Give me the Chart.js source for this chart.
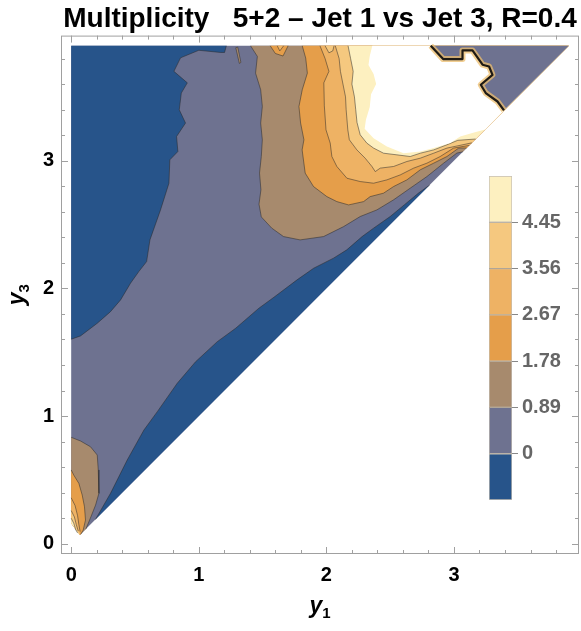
<!DOCTYPE html>
<html>
<head>
<meta charset="utf-8">
<script src="https://cdn.jsdelivr.net/npm/chart.js@4.4.0/dist/chart.umd.min.js"></script>
<style>
  body { margin: 0; background: #fff; }
  #wrap { position: relative; width: 581px; height: 631px; }
  #legendChart { position: absolute; left: 480px; top: 160px; }
</style>
</head>
<body>
<div id="wrap">
  <canvas id="myChart" width="581" height="631"></canvas>
  <canvas id="legendChart" width="101" height="360"></canvas>
</div>
<script>
const titleText = 'Multiplicity   5+2 \u2013 Jet 1 vs Jet 3, R=0.4';
const levels = [0, 0.89, 1.78, 2.67, 3.56, 4.45];
const xTicks = [0, 1, 2, 3];
const yTicks = [0, 1, 2, 3];

// plotted region (y3 >= y1)
const domain = [[0, 3.9], [3.9, 3.9], [0.068, 0.068], [0, 0.16]];
const lowTip = [[0.068, 0.068], [0, 0.16]];

// contour at 0
const zeroLeft = [[1.216, 3.9], [1.202, 3.848], [1.171, 3.848], [1.0, 3.865], [0.857, 3.806], [0.805, 3.70],
  [0.91, 3.61], [0.863, 3.53], [0.847, 3.399], [0.896, 3.295], [0.826, 3.19], [0.836, 3.072], [0.773, 3.007],
  [0.766, 2.824], [0.70, 2.615], [0.617, 2.38], [0.591, 2.21], [0.53, 2.132], [0.465, 2.041], [0.387, 1.91],
  [0.308, 1.818], [0.204, 1.727], [0.073, 1.628], [0, 1.602]];
const zeroDiag = [[0.19, 0.19], [0.308, 0.395], [0.439, 0.656], [0.57, 0.891], [0.675, 1.035], [0.831, 1.257],
  [0.975, 1.426], [1.145, 1.583], [1.289, 1.688], [1.471, 1.845], [1.589, 1.931], [1.77, 2.067], [1.90, 2.158],
  [2.056, 2.237], [2.16, 2.302], [2.28, 2.406], [2.37, 2.472], [2.50, 2.563], [2.61, 2.654], [2.72, 2.745], [2.81, 2.81]];

// contour at 0.89
const brownMain = [[1.406, 3.9], [1.459, 3.817], [1.445, 3.686], [1.485, 3.556], [1.498, 3.425], [1.485, 3.295],
  [1.498, 3.164], [1.49, 3.033], [1.476, 2.903], [1.487, 2.772], [1.472, 2.66], [1.49, 2.56], [1.572, 2.472],
  [1.664, 2.406], [1.794, 2.38], [1.978, 2.406], [2.135, 2.484], [2.265, 2.563], [2.396, 2.615], [2.527, 2.694],
  [2.657, 2.785], [2.788, 2.876], [2.919, 2.981], [3.023, 3.06], [3.07, 3.07]];
const brownLow = [[0, 0.834], [0.073, 0.805], [0.151, 0.76], [0.204, 0.695], [0.212, 0.578], [0.217, 0.395],
  [0.191, 0.303], [0.15, 0.2], [0.115, 0.115]];
const brownIsle = [[1.29, 3.885], [1.305, 3.89], [1.33, 3.77], [1.318, 3.762], [1.29, 3.885]];

// contour at 1.78
const orangeMain = [[1.811, 3.9], [1.838, 3.804], [1.851, 3.686], [1.811, 3.556], [1.785, 3.425], [1.798, 3.295],
  [1.824, 3.164], [1.81, 3.085], [1.834, 2.903], [1.899, 2.798], [2.004, 2.719], [2.082, 2.68], [2.174, 2.654],
  [2.292, 2.68], [2.343, 2.719], [2.448, 2.746], [2.527, 2.798], [2.631, 2.85], [2.736, 2.929], [2.841, 2.981],
  [2.945, 3.033], [3.037, 3.099], [3.1, 3.1]];
const orangeLow = [[0, 0.578], [0.02, 0.538], [0.06, 0.473], [0.086, 0.382], [0.104, 0.29], [0.112, 0.186],
  [0.094, 0.107], [0.075, 0.075]];
const orangeIsle = [[1.56, 3.9], [1.6, 3.84], [1.66, 3.82], [1.70, 3.9]];

// contour at 2.67
const l267Main = [[1.95, 3.9], [1.99, 3.8], [2.02, 3.7], [1.98, 3.61], [1.984, 3.43], [1.997, 3.242], [2.03, 3.138],
  [2.043, 3.033], [2.082, 2.955], [2.161, 2.863], [2.265, 2.837], [2.37, 2.824], [2.474, 2.85], [2.579, 2.889],
  [2.684, 2.942], [2.788, 2.981], [2.892, 3.033], [2.997, 3.099], [3.12, 3.12]];
const l267Low = [[0, 0.36], [0.03, 0.3], [0.05, 0.22], [0.06, 0.15], [0.07, 0.095]];
const l267Isle = [[1.615, 3.9], [1.635, 3.86], [1.665, 3.9]];

// contour at 3.56
const l356Main = [[2.07, 3.9], [2.1, 3.8], [2.11, 3.7], [2.13, 3.6], [2.15, 3.5], [2.155, 3.4], [2.168, 3.242],
  [2.18, 3.164], [2.239, 3.085], [2.304, 3.02], [2.357, 2.955], [2.383, 2.915], [2.422, 2.942], [2.527, 2.955],
  [2.631, 2.994], [2.736, 3.02], [2.841, 3.059], [2.945, 3.099], [3.14, 3.14]];
const l356Low = [[0, 0.26], [0.025, 0.21], [0.04, 0.15], [0.055, 0.1]];
const l356Isle = [[1.99, 3.9], [2.02, 3.845], [2.05, 3.86], [2.06, 3.9]];

// contour at 4.45
const l445Main = [[2.17, 3.9], [2.19, 3.8], [2.21, 3.7], [2.2, 3.6], [2.22, 3.5], [2.23, 3.4], [2.24, 3.3],
  [2.265, 3.203], [2.317, 3.138], [2.37, 3.099], [2.448, 3.059], [2.553, 3.046], [2.657, 3.033], [2.736, 3.059],
  [2.841, 3.085], [2.945, 3.125], [3.03, 3.16], [3.17, 3.17]];
const l445Low = [[0, 0.2], [0.02, 0.16], [0.035, 0.11], [0.05, 0.085]];

// edge of the plotted range (white above) and the jump line
const clipEdge = [[2.36, 3.9], [2.34, 3.82], [2.33, 3.75], [2.37, 3.68], [2.39, 3.6], [2.35, 3.52], [2.34, 3.42],
  [2.31, 3.32], [2.30, 3.25], [2.37, 3.177], [2.474, 3.112], [2.605, 3.059], [2.736, 3.072], [2.841, 3.099],
  [2.971, 3.138], [3.049, 3.19], [3.15, 3.22], [3.245, 3.245]];
const crossing = [[2.818, 3.9], [2.915, 3.796], [3.067, 3.796], [3.067, 3.864], [3.145, 3.864], [3.224, 3.752],
  [3.275, 3.738], [3.302, 3.673], [3.21, 3.595], [3.249, 3.53], [3.341, 3.464], [3.392, 3.395]];

const bandColors = ['#27548a', '#6e7290', '#a78a6d', '#e59e4a', '#eeb264', '#f5c87f', '#fdf0c0'];
const FONT = '"Liberation Sans", Arial, Helvetica, sans-serif';
const LINE = 'rgba(40,40,40,0.5)';

Chart.defaults.font.family = FONT;

const top39 = [[3.9, 3.9]];
const layers = [
  { curve: [], tail: domain, color: bandColors[1] },
  { curve: zeroLeft, tail: [[0, 3.9]], color: bandColors[0] },
  { curve: zeroDiag, tail: [], color: bandColors[0] },
  { curve: brownMain, tail: top39, color: bandColors[2] },
  { curve: brownLow, tail: lowTip, color: bandColors[2] },
  { curve: brownIsle, tail: [], color: bandColors[2] },
  { curve: orangeMain, tail: top39, color: bandColors[3] },
  { curve: orangeLow, tail: lowTip, color: bandColors[3] },
  { curve: orangeIsle, tail: [], color: bandColors[3] },
  { curve: l267Main, tail: top39, color: bandColors[4] },
  { curve: l267Low, tail: lowTip, color: bandColors[4] },
  { curve: l267Isle, tail: [], color: bandColors[4] },
  { curve: l356Main, tail: top39, color: bandColors[5] },
  { curve: l356Low, tail: lowTip, color: bandColors[5] },
  { curve: l356Isle, tail: [], color: bandColors[5] },
  { curve: l445Main, tail: top39, color: bandColors[6] },
  { curve: l445Low, tail: lowTip, color: bandColors[6] },
  { curve: [], tail: clipEdge.concat(crossing.slice().reverse()), color: '#ffffff' },
  { curve: [], tail: crossing.concat(top39), color: bandColors[1] },
  { curve: crossing, tail: [], stroke: 'rgba(236,190,110,0.75)', width: 6 },
  { curve: crossing, tail: [], stroke: '#1e1a14', width: 2.2 }
];

const toPts = arr => arr.map(([x, y]) => ({ x, y }));
const datasets = [];
layers.forEach(l => {
  if (l.color) {
    datasets.push({
      data: toPts(l.curve.concat(l.tail)),
      showLine: true, pointRadius: 0, borderWidth: 0,
      backgroundColor: l.color, fill: 'shape'
    });
  }
  if (l.curve.length) {
    datasets.push({
      data: toPts(l.curve),
      showLine: true, pointRadius: 0, fill: false,
      borderWidth: l.width || 1, borderJoinStyle: 'round',
      borderColor: l.stroke || LINE
    });
  }
});
datasets.forEach((d, i) => { d.order = datasets.length - i; });

// frame with inward ticks and axis titles
const frameTicks = {
  id: 'frameTicks',
  afterDraw(chart) {
    const { ctx, chartArea: a, scales: { x, y } } = chart;
    ctx.save();
    ctx.strokeStyle = '#a0a0a0';
    ctx.lineWidth = 1;
    ctx.strokeRect(a.left + 0.5, a.top + 0.5, a.right - a.left - 1, a.bottom - a.top - 1);
    ctx.beginPath();
    for (let k = 0; k <= 19; k++) {
      const v = k / 5;
      const len = k % 5 === 0 ? 7 : 4;
      const px = Math.round(x.getPixelForValue(v)) + 0.5;
      const py = Math.round(y.getPixelForValue(v)) + 0.5;
      ctx.moveTo(px, a.bottom); ctx.lineTo(px, a.bottom - len);
      ctx.moveTo(px, a.top); ctx.lineTo(px, a.top + len);
      ctx.moveTo(a.left, py); ctx.lineTo(a.left + len, py);
      ctx.moveTo(a.right, py); ctx.lineTo(a.right - len, py);
    }
    ctx.stroke();

    ctx.fillStyle = '#000';
    ctx.textBaseline = 'alphabetic';
    const drawSub = (main, sub, cx, base) => {
      ctx.font = 'italic bold 23px ' + FONT;
      const w1 = ctx.measureText(main).width;
      ctx.font = 'bold 15px ' + FONT;
      const w2 = ctx.measureText(sub).width;
      const x0 = cx - (w1 + w2) / 2;
      ctx.font = 'italic bold 23px ' + FONT;
      ctx.fillText(main, x0, base);
      ctx.font = 'bold 15px ' + FONT;
      ctx.fillText(sub, x0 + w1, base + 5);
    };
    drawSub('y', '1', (a.left + a.right) / 2, 613);
    ctx.translate(24, (a.top + a.bottom) / 2);
    ctx.rotate(-Math.PI / 2);
    drawSub('y', '3', 0, 0);
    ctx.restore();
  }
};

const myChart = new Chart(document.getElementById('myChart'), {
  type: 'scatter',
  data: { datasets },
  options: {
    responsive: false,
    animation: false,
    events: [],
    layout: { padding: { top: 0, left: 0, right: 2, bottom: 0 } },
    plugins: {
      legend: { display: false },
      tooltip: { enabled: false },
      title: {
        display: true, text: titleText, color: '#000', fullSize: false,
        font: { size: 28, weight: 'bold' }, padding: { top: 2, bottom: 0 }
      }
    },
    scales: {
      x: {
        type: 'linear', min: -0.08, max: 3.98,
        grid: { display: false, drawTicks: false },
        border: { display: false },
        afterBuildTicks: s => { s.ticks = xTicks.map(v => ({ value: v })); },
        afterFit: s => { s.height = 77; },
        ticks: { color: '#000', font: { size: 20, weight: 'bold' }, padding: 9, maxRotation: 0, callback: v => String(v) }
      },
      y: {
        type: 'linear', min: -0.08, max: 3.98,
        grid: { display: false, drawTicks: false },
        border: { display: false },
        afterBuildTicks: s => { s.ticks = yTicks.map(v => ({ value: v })); },
        afterFit: s => { s.width = 61; },
        ticks: { color: '#000', font: { size: 20, weight: 'bold' }, padding: 7, callback: v => String(v) }
      }
    }
  },
  plugins: [frameTicks]
});

// colour bar
const legendChart = new Chart(document.getElementById('legendChart'), {
  type: 'bar',
  data: {
    labels: [''],
    datasets: bandColors.map(c => ({
      data: [1],
      backgroundColor: c,
      borderColor: 'rgba(90,70,40,0.35)',
      borderWidth: 1,
      borderSkipped: false,
      barPercentage: 1,
      categoryPercentage: 1
    }))
  },
  options: {
    responsive: false,
    animation: false,
    events: [],
    layout: { padding: { left: 9, top: 13, bottom: 20, right: 0 } },
    plugins: { legend: { display: false }, tooltip: { enabled: false } },
    scales: {
      x: { display: false, stacked: true },
      y: {
        stacked: true, position: 'right', min: 0, max: 7,
        afterBuildTicks: s => { s.ticks = levels.map((v, i) => ({ value: i + 1 })); },
        afterFit: s => { s.width = 69; },
        grid: { drawOnChartArea: false, drawTicks: true, tickLength: 6, color: '#888' },
        border: { display: false },
        ticks: { color: '#666', font: { size: 20, weight: 'bold' }, padding: 4, callback: v => String(levels[v - 1]) }
      }
    }
  }
});
</script>
</body>
</html>
